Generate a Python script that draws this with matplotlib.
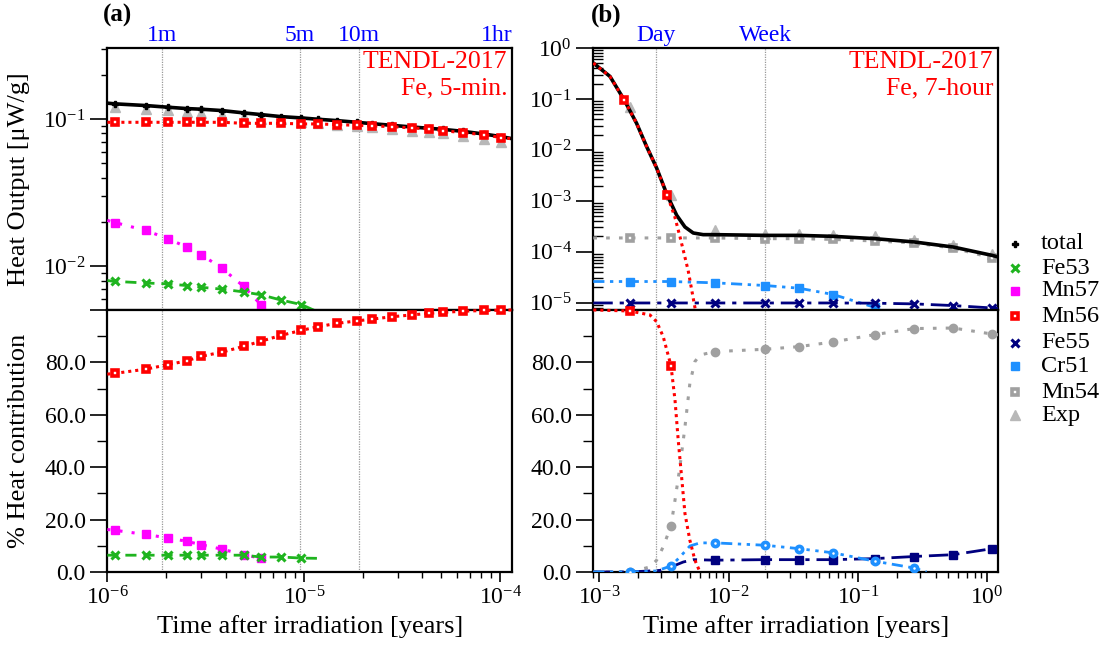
import matplotlib
matplotlib.use("Agg")
import matplotlib.pyplot as plt
from matplotlib.lines import Line2D
from matplotlib.ticker import (LogLocator, NullFormatter, FixedLocator, MultipleLocator,
                               FuncFormatter, LogFormatterMathtext)

plt.rcParams["font.family"] = ["Liberation Serif", "DejaVu Serif"]
plt.rcParams["mathtext.fontset"] = "custom"
plt.rcParams["mathtext.rm"] = "Liberation Serif"
plt.rcParams["mathtext.it"] = "Liberation Serif:italic"

# ---------------- panel (a): Fe, 5-min irradiation ----------------
A_XLIM = (1.0e-6, 1.15e-4)
# measurement times [years]
T_A = [1.094e-6, 1.570e-6, 2.032e-6, 2.535e-6, 3.006e-6, 3.828e-6, 4.943e-6,
       6.067e-6, 7.656e-6, 9.705e-6, 1.178e-5, 1.479e-5, 1.854e-5, 2.223e-5,
       2.799e-5, 3.540e-5, 4.315e-5, 5.093e-5, 6.427e-5, 8.241e-5, 1.012e-4]
# lines run from the left edge to the right edge
TA_LINE = [1.0e-6] + T_A + [1.15e-4]

A_TOTAL = [0.128, 0.1266, 0.1233, 0.1201, 0.1176, 0.1164, 0.1140, 0.1099, 0.1070,
           0.1037, 0.1016, 0.0995, 0.0974, 0.0949, 0.0929, 0.0905, 0.0882, 0.0864,
           0.0850, 0.0824, 0.0790, 0.0758, 0.0734]
A_EXP = [0.120, 0.1164, 0.1151, 0.1122, 0.1104, 0.1059, 0.1037, 0.0995, 0.0995,
         0.0954, 0.0934, 0.0915, 0.0896, 0.0877, 0.0859, 0.0833, 0.0811, 0.0798,
         0.0770, 0.0734, 0.0697]
A_MN56 = [0.0949, 0.0949, 0.0949, 0.0949, 0.0949, 0.0949, 0.0949, 0.0934, 0.0934,
          0.0934, 0.0925, 0.0925, 0.0915, 0.0905, 0.0896, 0.0887, 0.0868, 0.0859,
          0.0833, 0.0807, 0.0782, 0.0746, 0.0734]
A_MN57 = [0.0205, 0.0198, 0.0175, 0.0154, 0.0135, 0.0120, 0.0097, 0.0073, 0.00546]
A_FE53 = [0.0080, 0.0079, 0.0077, 0.0076, 0.0074, 0.0072, 0.0070, 0.0067, 0.0064,
          0.0059, 0.0055, 0.0049]

PA_MN56 = [75.5, 75.8, 77.4, 79.1, 80.6, 82.3, 83.9, 86.1, 88.1, 90.3, 92.2, 93.6,
           94.9, 95.8, 96.5, 97.4, 98.1, 98.7, 99.1, 99.5, 99.8, 99.9, 100.0]
PA_MN57 = [16.2, 15.9, 14.3, 13.0, 11.7, 10.4, 8.7, 6.6, 5.2]
PA_FE53 = [6.4, 6.4, 6.4, 6.4, 6.4, 6.4, 6.4, 6.4, 5.7, 5.7, 5.3, 5.2]

A_MARKS = {"1m": 1.901e-6, "5m": 9.506e-6, "10m": 1.901e-5, "1hr": 1.141e-4}

# ---------------- panel (b): Fe, 7-hour irradiation ----------------
B_XLIM = (9.0e-4, 1.22)
T_B = [1.726e-3, 3.589e-3, 7.852e-3, 1.914e-2, 3.508e-2, 6.457e-2, 0.1355,
       0.2729, 0.547, 1.094]
TB_LINE = [9.0e-4] + T_B + [1.22]

B_TOT_X = [9.0e-4, 1.211e-3, 1.560e-3, 1.945e-3, 2.328e-3, 2.780e-3, 3.357e-3,
           3.972e-3, 4.603e-3, 5.333e-3, 6.368e-3, 7.852e-3, 1.914e-2, 3.508e-2,
           6.457e-2, 0.1355, 0.2729, 0.547, 1.094, 1.22]
B_TOT = [0.507, 0.2767, 0.0959, 0.0333, 0.01156, 4.4e-3, 1.29e-3, 5.21e-4,
         3.07e-4, 2.34e-4, 2.17e-4, 2.17e-4, 2.10e-4, 2.10e-4, 2.01e-4, 1.81e-4,
         1.56e-4, 1.24e-4, 8.5e-5, 7.9e-5]
B_MN56_X = [9.0e-4, 1.211e-3, 1.560e-3, 1.945e-3, 2.328e-3, 2.780e-3, 3.357e-3,
            3.846e-3, 4.207e-3, 4.875e-3, 5.495e-3, 5.888e-3]
B_MN56 = [0.507, 0.2767, 0.0959, 0.0333, 0.01156, 4.4e-3, 1.29e-3, 4.79e-4,
          2.0e-4, 4.27e-5, 8.1e-6, 3.2e-6]
B_EXP = [0.0689, 1.29e-3, 2.64e-4, 2.27e-4, 2.27e-4, 2.10e-4, 2.01e-4, 1.67e-4,
         1.38e-4, 9.2e-5]
B_MN54 = [1.87e-4, 1.87e-4, 1.87e-4, 1.87e-4, 1.81e-4, 1.81e-4, 1.75e-4, 1.63e-4,
          1.49e-4, 1.18e-4, 7.6e-5, 7.0e-5]
B_CR51 = [2.61e-5, 2.61e-5, 2.61e-5, 2.46e-5, 2.18e-5, 1.93e-5, 1.45e-5, 8.1e-6, 3.5e-6]
B_FE55 = [9.9e-6, 9.9e-6, 9.9e-6, 9.9e-6, 9.9e-6, 9.9e-6, 9.9e-6, 9.8e-6, 9.5e-6,
          8.8e-6, 7.9e-6, 7.7e-6]

PB_MN56_X = [9.0e-4, 1.726e-3, 2.466e-3, 2.780e-3, 3.126e-3, 3.589e-3, 3.855e-3,
             4.083e-3, 4.335e-3, 4.603e-3, 5.023e-3, 5.495e-3, 6.012e-3]
PB_MN56 = [100.0, 99.6, 98.1, 95.5, 89.8, 78.7, 65.6, 50.3, 36.3, 22.3, 12.1, 4.5, 0.0]
PB_MN54_X = [9.0e-4, 1.726e-3, 2.466e-3, 2.780e-3, 3.126e-3, 3.589e-3, 3.855e-3,
             4.207e-3, 4.603e-3, 5.023e-3, 5.495e-3, 6.012e-3, 7.852e-3, 1.914e-2,
             3.508e-2, 6.457e-2, 0.1355, 0.2729, 0.547, 1.094, 1.22]
PB_MN54 = [0.0, 0.0, 1.9, 4.5, 9.6, 17.6, 27.4, 40.1, 55.4, 72.0, 80.3, 82.8, 84.1,
           85.0, 86.0, 87.8, 90.6, 92.9, 93.1, 90.8, 90.5]
PB_CR51_X = [9.0e-4, 1.726e-3, 2.780e-3, 3.589e-3, 4.207e-3, 5.023e-3, 6.012e-3,
             7.852e-3, 1.914e-2, 3.508e-2, 6.457e-2, 0.1355, 0.2729, 0.340]
PB_CR51 = [0.0, 0.0, 0.4, 2.3, 5.7, 9.9, 11.1, 11.1, 10.2, 8.9, 7.3, 4.1, 1.5, 0.0]
PB_FE55_X = [9.0e-4, 1.726e-3, 2.944e-3, 3.589e-3, 4.467e-3, 5.333e-3, 7.852e-3,
             1.914e-2, 3.508e-2, 6.457e-2, 0.1355, 0.2729, 0.547, 1.094, 1.22]
PB_FE55 = [0.0, 0.0, 0.6, 1.9, 3.8, 4.7, 4.5, 4.7, 4.7, 4.7, 5.1, 5.9, 6.6, 8.9, 9.3]

B_MARKS = {"Day": 2.738e-3, "Week": 1.917e-2}

# ---------------- styles ----------------
C_TOTAL = "black"
C_FE53 = "#1fb41f"
C_MN57 = "#ff00ff"
C_MN56 = "#ff0000"
C_FE55 = "#00007f"
C_CR51 = "#1e90ff"
C_MN54 = "#a0a0a0"
C_EXP = "#b8b8b8"
VLINE = "#999999"

LS_TOTAL = dict(color=C_TOTAL, ls="-", lw=2.6)
LS_FE53 = dict(color=C_FE53, ls=(0, (4, 2.5)), lw=2.0)
LS_MN57 = dict(color=C_MN57, ls=(0, (1, 3)), lw=2.2)
LS_MN56 = dict(color=C_MN56, ls=(0, (1, 1.3)), lw=2.2)
LS_FE55 = dict(color=C_FE55, ls=(0, (7, 2.5, 1.5, 2.5)), lw=2.0)
LS_CR51 = dict(color=C_CR51, ls=(0, (4, 2, 1.2, 2, 1.2, 2)), lw=2.0)
LS_MN54 = dict(color=C_MN54, ls=(0, (1.2, 3)), lw=2.2)

MK_TOTAL = dict(marker="P", ms=4.5, mfc=C_TOTAL, mec=C_TOTAL)
MK_FE53 = dict(marker="x", ms=5.5, mew=2.2, mec=C_FE53)
MK_MN57 = dict(marker="s", ms=5.5, mfc=C_MN57, mec=C_MN57)
MK_MN56 = dict(marker="s", ms=4.0, mew=2.6, mfc="white", mec=C_MN56)
MK_FE55 = dict(marker="x", ms=5.5, mew=2.2, mec=C_FE55)
MK_CR51 = dict(marker="s", ms=5.5, mfc=C_CR51, mec=C_CR51)
MK_MN54 = dict(marker="s", ms=4.0, mew=2.6, mfc="white", mec=C_MN54)
MK_EXP = dict(marker="^", ms=7, mfc=C_EXP, mec=C_EXP, ls="none")
# the % panel of (b) uses other point types
MK_FE55_P = dict(marker="s", ms=5.5, mfc=C_FE55, mec=C_FE55)
MK_CR51_P = dict(marker="o", ms=4.5, mew=2.6, mfc="white", mec=C_CR51)
MK_MN54_P = dict(marker="o", ms=6.0, mfc=C_MN54, mec=C_MN54)

FS_TICK = 17
FS_LABEL = 19

fig = plt.figure(figsize=(11.03, 6.46), dpi=100)
W, H = 0.3672, 0.4056
ax_at = fig.add_axes([0.0973, 0.5201, W, H])
ax_ab = fig.add_axes([0.0973, 0.1146, W, H], sharex=ax_at)
ax_bt = fig.add_axes([0.5379, 0.5201, W, H])
ax_bb = fig.add_axes([0.5379, 0.1146, W, H], sharex=ax_bt)

# --- (a) heat output ---
ax_at.plot(T_A, A_EXP, zorder=2, **MK_EXP)
ax_at.plot(TA_LINE, A_TOTAL, markevery=list(range(1, 22)), zorder=3, **LS_TOTAL, **MK_TOTAL)
ax_at.plot(TA_LINE, A_MN56, markevery=list(range(1, 22)), zorder=4, **LS_MN56, **MK_MN56)
ax_at.plot(TA_LINE[:9], A_MN57, markevery=list(range(1, 9)), zorder=4, **LS_MN57, **MK_MN57)
ax_at.plot(TA_LINE[:12], A_FE53, markevery=list(range(1, 11)), zorder=4, **LS_FE53, **MK_FE53)

# --- (a) % contribution ---
ax_ab.plot(TA_LINE, PA_MN56, markevery=list(range(1, 22)), zorder=4, clip_on=False,
           **LS_MN56, **MK_MN56)
ax_ab.plot(TA_LINE[:9], PA_MN57, markevery=list(range(1, 9)), zorder=4, **LS_MN57, **MK_MN57)
ax_ab.plot(TA_LINE[:12], PA_FE53, markevery=list(range(1, 11)), zorder=4, **LS_FE53, **MK_FE53)

# --- (b) heat output ---
ax_bt.plot(T_B, B_EXP, zorder=2, **MK_EXP)
ax_bt.plot(TB_LINE, B_MN54, markevery=list(range(1, 11)), zorder=3, **LS_MN54, **MK_MN54)
ax_bt.plot(TB_LINE[:9], B_CR51, markevery=list(range(1, 8)), zorder=3, **LS_CR51, **MK_CR51)
ax_bt.plot(TB_LINE, B_FE55, markevery=list(range(1, 11)), zorder=3, **LS_FE55, **MK_FE55)
ax_bt.plot(B_TOT_X, B_TOT, zorder=4, **LS_TOTAL)
ax_bt.plot(B_MN56_X, B_MN56, markevery=[2, 6], zorder=5, **LS_MN56, **MK_MN56)

# --- (b) % contribution ---
ax_bb.plot(PB_MN54_X, PB_MN54, markevery=[1, 5] + list(range(12, 20)), zorder=3,
           **LS_MN54, **MK_MN54_P)
ax_bb.plot(PB_FE55_X, PB_FE55, markevery=list(range(6, 14)), zorder=3, **LS_FE55, **MK_FE55_P)
ax_bb.plot(PB_CR51_X, PB_CR51, markevery=[1, 3] + list(range(7, 13)), zorder=4,
           **LS_CR51, **MK_CR51_P)
ax_bb.plot(PB_MN56_X, PB_MN56, markevery=[1, 5], zorder=5, clip_on=False,
           **LS_MN56, **MK_MN56)


def pct_fmt(v, pos):
    return "" if v > 99 else f"{v:.1f}"


for ax in (ax_at, ax_ab, ax_bt, ax_bb):
    ax.set_xscale("log")
    for sp in ax.spines.values():
        sp.set_linewidth(1.6)
    ax.tick_params(which="both", direction="out", labelsize=FS_TICK, top=False, right=False)
    ax.tick_params(which="major", length=7, width=1.2)
    ax.tick_params(which="minor", length=4, width=1.0)
    ax.xaxis.set_major_locator(LogLocator(base=10, numticks=20))
    ax.xaxis.set_minor_locator(LogLocator(base=10, subs=range(2, 10), numticks=20))
    ax.xaxis.set_minor_formatter(NullFormatter())

for ax in (ax_at, ax_bt):
    ax.set_yscale("log")
    ax.yaxis.set_major_locator(LogLocator(base=10, numticks=20))
    ax.yaxis.set_minor_locator(LogLocator(base=10, subs=range(2, 10), numticks=20))
    ax.yaxis.set_major_formatter(LogFormatterMathtext())
    ax.yaxis.set_minor_formatter(NullFormatter())
    ax.tick_params(axis="x", labelbottom=False)
    ax.tick_params(axis="y", which="major", length=12)

ax_bt.tick_params(axis="y", which="minor", direction="in", length=7)

for ax in (ax_ab, ax_bb):
    ax.set_ylim(0, 100)
    ax.yaxis.set_major_locator(FixedLocator([0, 20, 40, 60, 80, 100]))
    ax.yaxis.set_minor_locator(MultipleLocator(10))
    ax.yaxis.set_major_formatter(FuncFormatter(pct_fmt))
    ax.tick_params(axis="y", which="major", length=12)
    ax.tick_params(axis="y", which="minor", length=7)
    ax.set_xlabel("Time after irradiation [years]", fontsize=FS_LABEL, labelpad=4)

ax_at.set_xlim(*A_XLIM)
ax_bt.set_xlim(*B_XLIM)
ax_at.set_ylim(0.00505, 0.303)
ax_bt.set_ylim(7.2e-6, 1.0)

ax_at.set_ylabel("Heat Output [μW/g]", fontsize=FS_LABEL)
ax_ab.set_ylabel("% Heat contribution", fontsize=FS_LABEL)
ax_at.yaxis.set_label_coords(-0.19, 0.5)
ax_ab.yaxis.set_label_coords(-0.19, 0.5)

# time markers: dotted verticals + blue labels above
for ax_top, ax_bot, marks in ((ax_at, ax_ab, A_MARKS), (ax_bt, ax_bb, B_MARKS)):
    xmax = ax_top.get_xlim()[1]
    for name, t in marks.items():
        for ax in (ax_top, ax_bot):
            ax.axvline(t, color=VLINE, lw=0.9, ls=(0, (1, 1)), zorder=1)
        if t > xmax * 0.97:
            ax_top.text(xmax, 1.046, name, transform=ax_top.get_xaxis_transform(),
                        ha="right", va="center", color="#0000ff", fontsize=17)
        else:
            ax_top.text(t, 1.046, name, transform=ax_top.get_xaxis_transform(),
                        ha="center", va="center", color="#0000ff", fontsize=17)

for ax, sub in ((ax_at, "Fe, 5-min."), (ax_bt, "Fe, 7-hour")):
    ax.text(0.988, 0.947, "TENDL-2017", transform=ax.transAxes, ha="right", va="center",
            color="#ff0000", fontsize=18.5)
    ax.text(0.988, 0.847, sub, transform=ax.transAxes, ha="right", va="center",
            color="#ff0000", fontsize=18.5)

ax_at.text(-0.01, 1.125, "(a)", transform=ax_at.transAxes, ha="left", va="center",
           fontsize=18, fontweight="bold")
ax_bt.text(-0.005, 1.125, "(b)", transform=ax_bt.transAxes, ha="left", va="center",
           fontsize=18, fontweight="bold")

# legend on the right, drawn entry by entry
LEG_NAMES = ["total", "Fe53", "Mn57", "Mn56", "Fe55", "Cr51", "Mn54", "Exp"]
LEG_MARKERS = [MK_TOTAL, MK_FE53, MK_MN57, MK_MN56, MK_FE55, MK_CR51, MK_MN54, MK_EXP]
LEG_Y_PX = [244, 268, 291, 316, 343, 366, 392, 415]
for name, mk, ypx in zip(LEG_NAMES, LEG_MARKERS, LEG_Y_PX):
    yf = 1 - ypx / 646
    opts = dict(mk)
    opts["ls"] = "none"
    fig.add_artist(Line2D([1015 / 1103], [yf], transform=fig.transFigure, **opts))
    fig.text(1041 / 1103, yf, name, ha="left", va="center", fontsize=17.5)

fig.savefig("out.png", dpi=100)
